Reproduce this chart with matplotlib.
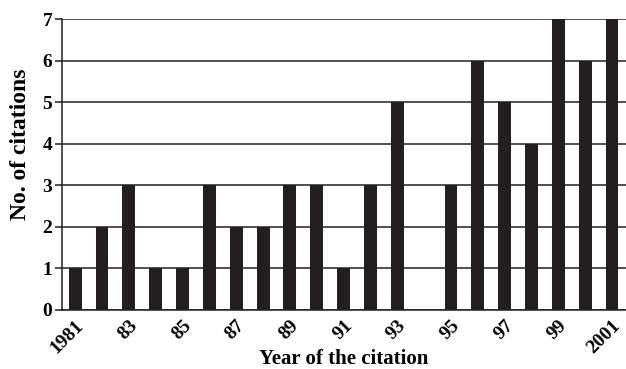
import matplotlib
matplotlib.use('Agg')
import matplotlib.pyplot as plt

# Datos
years = list(range(1981, 2002))
citations = [1, 2, 3, 1, 1, 3, 2, 2, 3, 3, 1, 3, 5, 0, 3, 6, 5, 4, 7, 6, 7]
tick_years = [1981, 1983, 1985, 1987, 1989, 1991, 1993, 1995, 1997, 1999, 2001]
tick_labels = ['1981', '83', '85', '87', '89', '91', '93', '95', '97', '99', '2001']

plt.rcParams['font.family'] = 'Liberation Serif'
plt.rcParams['font.weight'] = 'bold'

dark = '#231f20'

fig = plt.figure(figsize=(6.26, 3.69), dpi=100)
ax = fig.add_axes([62 / 626, 1 - 310 / 369, 564 / 626, 291 / 369])

ax.bar(years, citations, width=0.48, color=dark, zorder=3)

ax.set_xlim(1980.51, 2001.52)
ax.set_ylim(0, 7)
ax.set_yticks(range(0, 8))
ax.yaxis.grid(True, color=dark, linewidth=1.1, zorder=0)
ax.set_axisbelow(True)

ax.set_xticks(tick_years)
ax.set_xticklabels(tick_labels, rotation=45, ha='right', rotation_mode='anchor', fontsize=14)
ax.tick_params(axis='x', length=0, pad=5)
ax.tick_params(axis='y', length=5, width=1.1, color=dark, labelsize=14, pad=2)

for side in ['top', 'right']:
    ax.spines[side].set_visible(False)
ax.spines['left'].set_color(dark)
ax.spines['left'].set_linewidth(1.1)
ax.spines['bottom'].set_color(dark)
ax.spines['bottom'].set_linewidth(1.1)

ax.set_xlabel('Year of the citation', fontsize=15, fontweight='bold')
ax.set_ylabel('No. of citations', fontsize=17, fontweight='bold')
ax.xaxis.set_label_coords(0.5, -0.135)
ax.yaxis.set_label_coords(-0.055, 0.57)

fig.savefig('out.png', dpi=100)
